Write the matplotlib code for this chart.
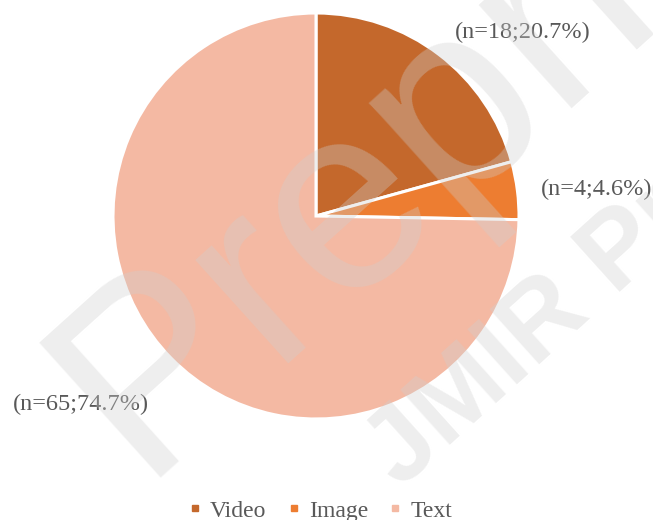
import matplotlib
matplotlib.use('Agg')
import matplotlib.pyplot as plt
from matplotlib.lines import Line2D

categories = ["Video", "Image", "Text"]
counts = [18, 4, 65]
percents = [20.7, 4.6, 74.7]
colors = ['#C4682C', '#ED7D31', '#F4B9A3']

plt.rcParams['font.family'] = ['Liberation Serif', 'DejaVu Serif']

fig = plt.figure(figsize=(6.53, 5.20), dpi=100)
# pie centre ~ (316, 216) px, radius ~ 203 px
cx, cy, r = 316, 216, 203
W, H = 653, 520
ax = fig.add_axes([(cx - r) / W, 1 - (cy + r) / H, 2 * r / W, 2 * r / H])

wedges, _ = ax.pie(counts, colors=colors, startangle=90, counterclock=False,
                   radius=1, wedgeprops=dict(edgecolor='white', linewidth=2.2))
ax.set_xlim(-1, 1)
ax.set_ylim(-1, 1)
ax.set_aspect('equal')
ax.axis('off')

# label positions in data units
pos = [(1.02, 0.905), (1.38, 0.13), (-1.16, -0.93)]
for (x, y), n, p in zip(pos, counts, percents):
    ax.text(x, y, f"(n={n};{p}%)", ha='center', va='center', fontsize=17.5,
            color='#595959', clip_on=False)

# faint preprint watermark
wm = dict(color='#CFCFCF', alpha=0.35, family='Liberation Sans',
          ha='left', va='baseline', rotation=42, rotation_mode='anchor', zorder=10)
fig.text(140 / W, 1 - 478 / H, "Preprints", fontsize=190, **wm)
fig.text(400 / W, 1 - 490 / H, "JMIR Preprints", fontsize=78, fontweight='bold', **wm)

handles = [Line2D([], [], marker='s', linestyle='', markersize=4.5,
                  markerfacecolor=c, markeredgecolor=c) for c in colors]
fig.legend(handles, categories, loc='lower center', ncol=3, frameon=False,
           bbox_to_anchor=(0.49, -0.035), fontsize=17, handlelength=0.6,
           handletextpad=0.35, columnspacing=0.85, labelcolor='#595959',
           borderpad=0.2)

fig.savefig('out.png', dpi=100)
